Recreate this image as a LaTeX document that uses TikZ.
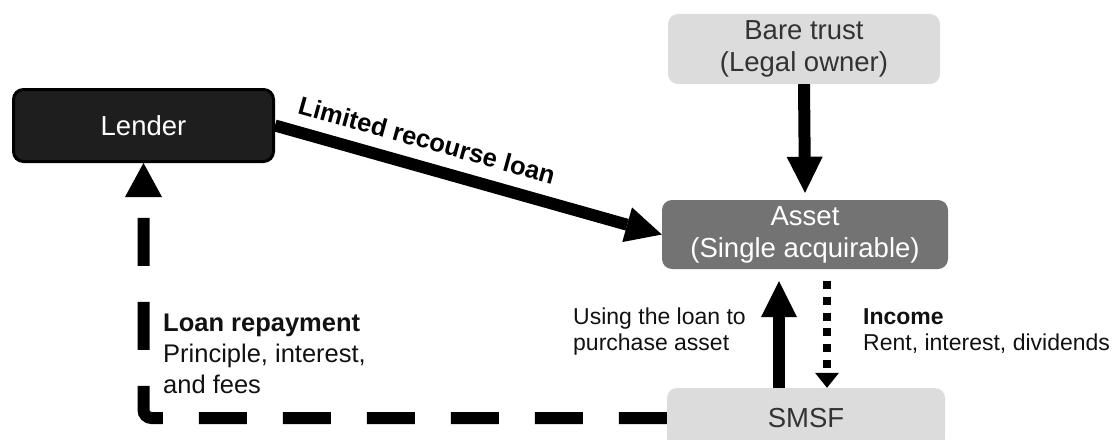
\documentclass[tikz,border=0pt]{standalone}
\usepackage{fontspec}
\setmainfont{Liberation Sans}
\usetikzlibrary{arrows.meta,calc}
\definecolor{boxlight}{HTML}{DCDCDC}
\definecolor{boxmid}{HTML}{737373}
\definecolor{boxdark}{HTML}{1E1E1E}
\definecolor{txtdark}{HTML}{333333}
\definecolor{lbltxt}{HTML}{111111}
\begin{document}
\begin{tikzpicture}[x=1pt,y=-1pt,
  box/.style={rectangle, rounded corners=10pt, inner sep=0pt, align=center,
    font=\fontsize{27.5}{32}\selectfont},
  lbl/.style={inner sep=0pt, align=left, anchor=base west, text=lbltxt,
    font=\fontsize{23}{26}\selectfont},
  bigarrow/.style={line width=12pt, -{Triangle[width=36pt,length=36pt,line width=0pt]}},
  dotarrow/.style={line width=8pt, dash pattern=on 8pt off 7.7pt,
    -{Triangle[width=24pt,length=15pt,line width=0pt]}},
  dasharrow/.style={line width=12pt, dash pattern=on 48pt off 36pt, rounded corners=8pt,
    -{Triangle[width=37pt,length=34pt,line width=0pt]}}
]
\useasboundingbox (0,0) rectangle (1116,439);
\node[box, fill=boxdark, draw=black, line width=3pt, text=white,
  minimum width=260pt, minimum height=72pt] (lender) at (143.5,125.5) {Lender};
\node[box, fill=boxlight, text=txtdark, minimum width=272pt, minimum height=70pt]
  (bare) at (804,49) {Bare trust\\(Legal owner)};
\node[box, fill=boxmid, text=white, minimum width=286pt, minimum height=69pt]
  (asset) at (805,234.5) {Asset\\(Single acquirable)};
\node[box, fill=boxlight, text=txtdark, minimum width=278pt, minimum height=60pt]
  (smsf) at (806,418) {SMSF};

% connectors
\draw[bigarrow] (bare.south) -- ($(asset.north)+(0,-7)$);
\draw[bigarrow] (lender.east) -- (asset.west);
\coordinate (ua) at ($(smsf.north)+(-27,0)$);
\coordinate (ub) at ($(asset.south)+(0,12)$);
\draw[bigarrow] (ua) -- (ua |- ub);
\coordinate (da) at ($(asset.south)+(22,12)$);
\draw[dotarrow] (da) -- (da |- smsf.north);
\draw[dasharrow] (smsf.west) -- (lender.south |- smsf.west) -- (lender.south);

% labels
\node[font=\bfseries\fontsize{25.5}{30}\selectfont, rotate=-15.5, inner sep=0pt]
  (lim) at (427,140) {Limited recourse loan};
\node[lbl] (using) at (573,350) {Using the loan to\\purchase asset};
\node[lbl] (inc) at (863,350) {\textbf{Income}\\Rent, interest, dividends};
\node[lbl, font=\fontsize{25.5}{31}\selectfont] (rep) at (163,393)
  {\textbf{Loan repayment}\\Principle, interest,\\and fees};
\end{tikzpicture}
\end{document}
